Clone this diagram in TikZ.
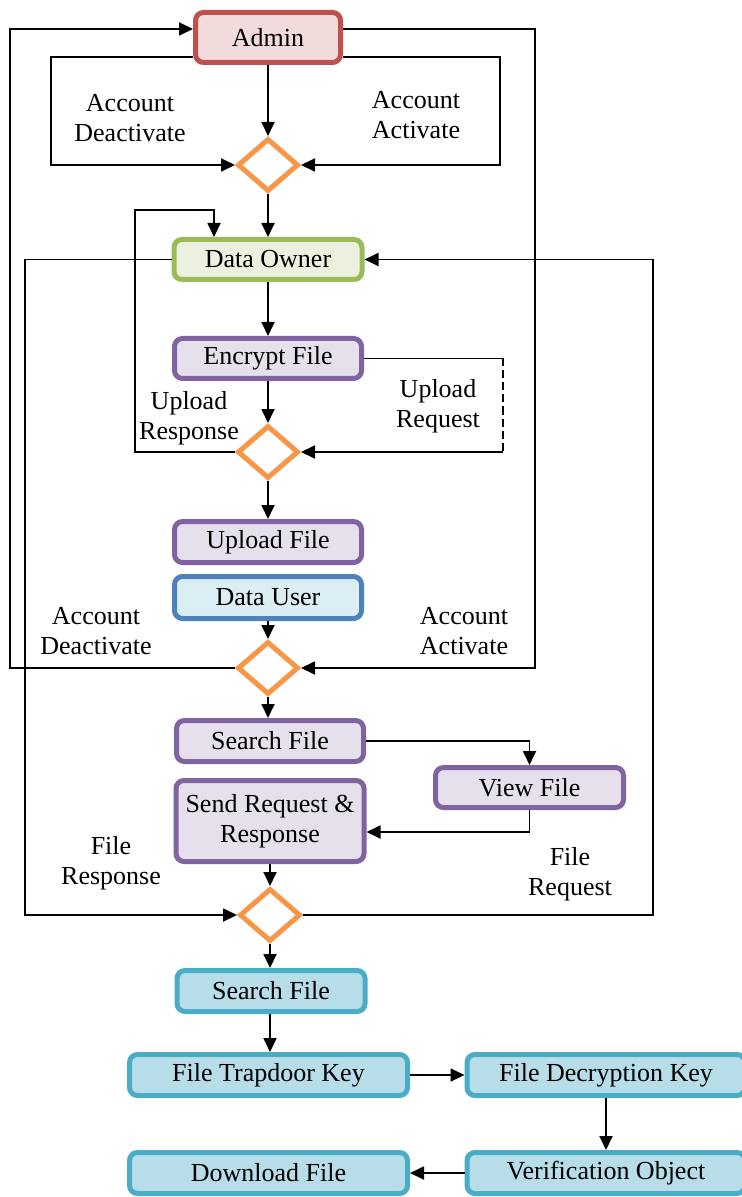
\documentclass[tikz,border=0pt]{standalone}
\usepackage{fontspec}
\setmainfont{Liberation Serif}
\usetikzlibrary{arrows.meta,shapes.geometric}
\definecolor{adminB}{HTML}{C0504D}
\definecolor{adminF}{HTML}{F2DCDB}
\definecolor{ownerB}{HTML}{9BBB59}
\definecolor{ownerF}{HTML}{EBF1DE}
\definecolor{purpB}{HTML}{8064A2}
\definecolor{purpF}{HTML}{E5E0EC}
\definecolor{userB}{HTML}{4F81BD}
\definecolor{userF}{HTML}{DBEEF4}
\definecolor{tealB}{HTML}{4BACC6}
\definecolor{tealF}{HTML}{B7DDE8}
\definecolor{dorange}{HTML}{F79646}
\begin{document}
\begin{tikzpicture}[x=0.5pt,y=-0.5pt,
  txt/.style={font=\fontsize{13}{15}\selectfont},
  box/.style={txt, draw, rounded corners=4pt, line width=2.5pt, inner sep=1pt, align=center, minimum height=20.5pt, minimum width=93.5pt},
  adminbox/.style={box, draw=adminB, fill=adminF, minimum width=72.5pt, minimum height=25pt},
  ownerbox/.style={box, draw=ownerB, fill=ownerF},
  purpbox/.style={box, draw=purpB, fill=purpF},
  userbox/.style={box, draw=userB, fill=userF},
  tealbox/.style={box, draw=tealB, fill=tealF},
  dia/.style={diamond, draw=dorange, line width=2.5pt, minimum width=30.5pt, minimum height=26.5pt, inner sep=0pt},
  ln/.style={line width=0.9pt},
  arr/.style={ln, -{Triangle[length=7pt,width=6.5pt]}},
  lbl/.style={txt, align=center, inner sep=0pt}
]
\useasboundingbox (0,0) rectangle (742,1197);

% nodes
\node[adminbox] (adm) at (268,37.5) {Admin};
\node[dia] (d1) at (268,165) {};
\node[ownerbox, minimum width=94pt, minimum height=20pt] (do) at (268,259.5) {Data Owner};
\node[purpbox, minimum height=20pt] (enc) at (268,358.5) {Encrypt File};
\node[dia] (d2) at (268,452) {};
\node[purpbox] (upl) at (268,542) {Upload File};
\node[userbox, minimum height=21pt] (du) at (268,597.5) {Data User};
\node[dia] (d3) at (268,668) {};
\node[purpbox] (sf1) at (270,741) {Search File};
\node[purpbox, minimum width=94pt, minimum height=20pt] (vf) at (529.5,787.5) {View File};
\node[purpbox, minimum width=94pt, minimum height=40.5pt] (snd) at (270,821) {Send Request \&\\Response};
\node[dia] (d4) at (270,915) {};
\node[tealbox, minimum width=94pt] (sf2) at (271,991) {Search File};
\node[tealbox, minimum width=139pt] (ftk) at (268.5,1075) {File Trapdoor Key};
\node[tealbox, minimum width=139pt] (fdk) at (606,1075) {File Decryption Key};
\node[tealbox, minimum width=139pt] (vo) at (606,1173) {Verification Object};
\node[tealbox, minimum width=139pt] (dl) at (268.5,1173) {Download File};

% labels
\node[lbl] (l1) at (130,118) {Account\\Deactivate};
\node[lbl] (l2) at (416,115) {Account\\Activate};
\node[lbl] (l3) at (189,418) {Upload\\Response};
\node[lbl] (l4) at (438,406) {Upload\\Request};
\node[lbl] (l5) at (96,631) {Account\\Deactivate};
\node[lbl] (l6) at (464,631) {Account\\Activate};
\node[lbl] (l7) at (111,863) {File\\Response};
\node[lbl] (l8) at (570,874) {File\\Request};

% helper coordinates
\coordinate (erbot) at (503,452);
\coordinate (ertop) at (enc.east -| erbot);

% admin loops
\draw[arr] (adm.south) -- (d1.north);
\draw[arr] ([yshift=-9.75pt]adm.west) -| (51,165) -- (d1.west);
\draw[arr] ([yshift=-9.75pt]adm.east) -| (500,165) -- (d1.east);
\draw[arr] (d1.south) -- (do.north);

% outer admin/user loop
\draw[arr] (d3.west) -- (10,668) |- ([yshift=4.25pt]adm.west);
\draw[arr] ([yshift=4.25pt]adm.east) -| (535,668) -- (d3.east);

% owner flow
\draw[arr] (do.south) -- (enc.north);
\draw[arr] (enc.south) -- (d2.north);
\draw[ln] (enc.east) -- (ertop);
\draw[ln, dash pattern=on 4pt off 2pt] (ertop) -- (erbot);
\draw[arr] (erbot) -- (d2.east);
\draw[arr] (d2.west) -| (135,210) -| ([xshift=-27pt]do.north);
\draw[arr] (d2.south) -- (upl.north);

% data owner big loops
\draw[arr] (do.west) -| (25,915) -- (d4.west);
\draw[arr] (d4.east) -| (653,259.5) -- (do.east);

% user flow
\draw[arr] (du.south) -- (d3.north);
\draw[arr] (d3.south) -- (d3.south |- sf1.north);
\draw[arr] (sf1.east) -| (vf.north);
\draw[arr] (vf.south) |- ([yshift=-5.5pt]snd.east);
\draw[arr] (snd.south) -- (d4.north);
\draw[arr] (d4.south) -- (d4.south |- sf2.north);
\draw[arr] (d4.south |- sf2.south) -- (d4.south |- ftk.north);
\draw[arr] (ftk.east) -- (fdk.west);
\draw[arr] (fdk.south) -- (vo.north);
\draw[arr] (vo.west) -- (dl.east);
\end{tikzpicture}
\end{document}
